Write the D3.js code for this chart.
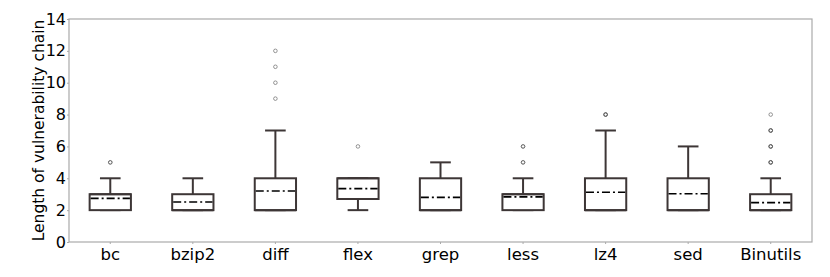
<!DOCTYPE html>
<meta charset="utf-8">
<style>
  body { margin: 0; background: #fff; }
  text { font-family: "DejaVu Sans", sans-serif; }
</style>
<svg width="830" height="277"></svg>
<script src="https://cdn.jsdelivr.net/npm/d3@7"></script>
<script>

// values
var programs = ["bc", "bzip2", "diff", "flex", "grep", "less", "lz4", "sed", "Binutils"],
    whiskerLow = [2, 2, 2, 2, 2, 2, 2, 2, 2],
    q1 = [2, 2, 2, 2.7, 2, 2, 2, 2, 2],
    median = [3, 2, 2, 4, 2, 3, 2, 2, 2],
    q3 = [3, 3, 4, 4, 4, 3, 4, 4, 3],
    whiskerHigh = [4, 4, 7, 4, 5, 4, 7, 6, 4],
    means = [2.74, 2.51, 3.2, 3.35, 2.8, 2.83, 3.12, 3.03, 2.47],
    outliers = [[5, 5], [], [9, 10, 11, 12], [6], [], [5, 5, 6, 6], [8, 8, 8], [], [5, 5, 5, 6, 6, 6, 7, 7, 7, 8]],
    yTicks = [0, 2, 4, 6, 8, 10, 12, 14];

var svg = d3.select("svg"),
    margin = {top: 19, right: 18, bottom: 35, left: 69},
    width = svg.attr("width") - margin.left - margin.right,
    height = svg.attr("height") - margin.top - margin.bottom;

var boxColor = "#3d3636";

var x = d3.scaleBand().domain(programs).range([0, width]).padding(0),
    y = d3.scaleLinear().domain([0, 14]).range([height, 0]);

var g = svg.append("g")
    .attr("transform", "translate(" + margin.left + "," + margin.top + ")");

// frame
g.append("rect")
    .attr("width", width)
    .attr("height", height)
    .attr("fill", "none")
    .attr("stroke", "#aaaaaa")
    .attr("stroke-width", 1.2);

var yAxis = g.append("g")
    .call(d3.axisLeft(y).tickValues(yTicks).tickSize(2).tickPadding(1));
yAxis.select(".domain").remove();
yAxis.selectAll("line").attr("stroke", "#aaaaaa");
yAxis.selectAll("text").attr("font-size", 16).attr("fill", "#000");

var xAxis = g.append("g")
    .attr("transform", "translate(0," + height + ")")
    .call(d3.axisBottom(x).tickSize(2).tickPadding(4));
xAxis.select(".domain").remove();
xAxis.selectAll("line").attr("stroke", "#aaaaaa");
xAxis.selectAll("text").attr("font-size", 16.5).attr("fill", "#000");

g.append("text")
    .attr("transform", "rotate(-90)")
    .attr("x", -height / 2)
    .attr("y", -25.5)
    .attr("text-anchor", "middle")
    .attr("font-size", 15.5)
    .text("Length of vulnerability chain");

var bw = x.bandwidth() * 0.5;

var box = g.selectAll(".box")
  .data(programs)
  .enter().append("g")
    .attr("class", "box")
    .attr("transform", function(d) { return "translate(" + (x(d) + x.bandwidth() / 2) + ",0)"; });

box.each(function(d, i) {
  var b = d3.select(this);

  // whiskers
  b.append("line")
      .attr("y1", y(q3[i])).attr("y2", y(whiskerHigh[i]))
      .attr("stroke", boxColor).attr("stroke-width", 2);
  b.append("line")
      .attr("x1", -bw / 4).attr("x2", bw / 4)
      .attr("y1", y(whiskerHigh[i])).attr("y2", y(whiskerHigh[i]))
      .attr("stroke", boxColor).attr("stroke-width", 2);
  b.append("line")
      .attr("y1", y(q1[i])).attr("y2", y(whiskerLow[i]))
      .attr("stroke", boxColor).attr("stroke-width", 2);
  b.append("line")
      .attr("x1", -bw / 4).attr("x2", bw / 4)
      .attr("y1", y(whiskerLow[i])).attr("y2", y(whiskerLow[i]))
      .attr("stroke", boxColor).attr("stroke-width", 2);

  b.append("rect")
      .attr("x", -bw / 2)
      .attr("width", bw)
      .attr("y", y(q3[i]))
      .attr("height", y(q1[i]) - y(q3[i]))
      .attr("fill", "#fff")
      .attr("stroke", boxColor)
      .attr("stroke-width", 2);

  b.append("line")
      .attr("x1", -bw / 2).attr("x2", bw / 2)
      .attr("y1", y(median[i])).attr("y2", y(median[i]))
      .attr("stroke", boxColor).attr("stroke-width", 2);

  // mean, dash-dot
  b.append("line")
      .attr("x1", -bw / 2 + 1).attr("x2", bw / 2 - 1)
      .attr("y1", y(means[i])).attr("y2", y(means[i]))
      .attr("stroke", "#000").attr("stroke-width", 1.6)
      .attr("stroke-dasharray", "8,3,2,3");

  b.selectAll("circle")
    .data(outliers[i])
    .enter().append("circle")
      .attr("cy", function(v) { return y(v); })
      .attr("r", 1.8)
      .attr("fill", "none")
      .attr("stroke", "#555")
      .attr("stroke-opacity", 0.6)
      .attr("stroke-width", 1);
});

</script>
